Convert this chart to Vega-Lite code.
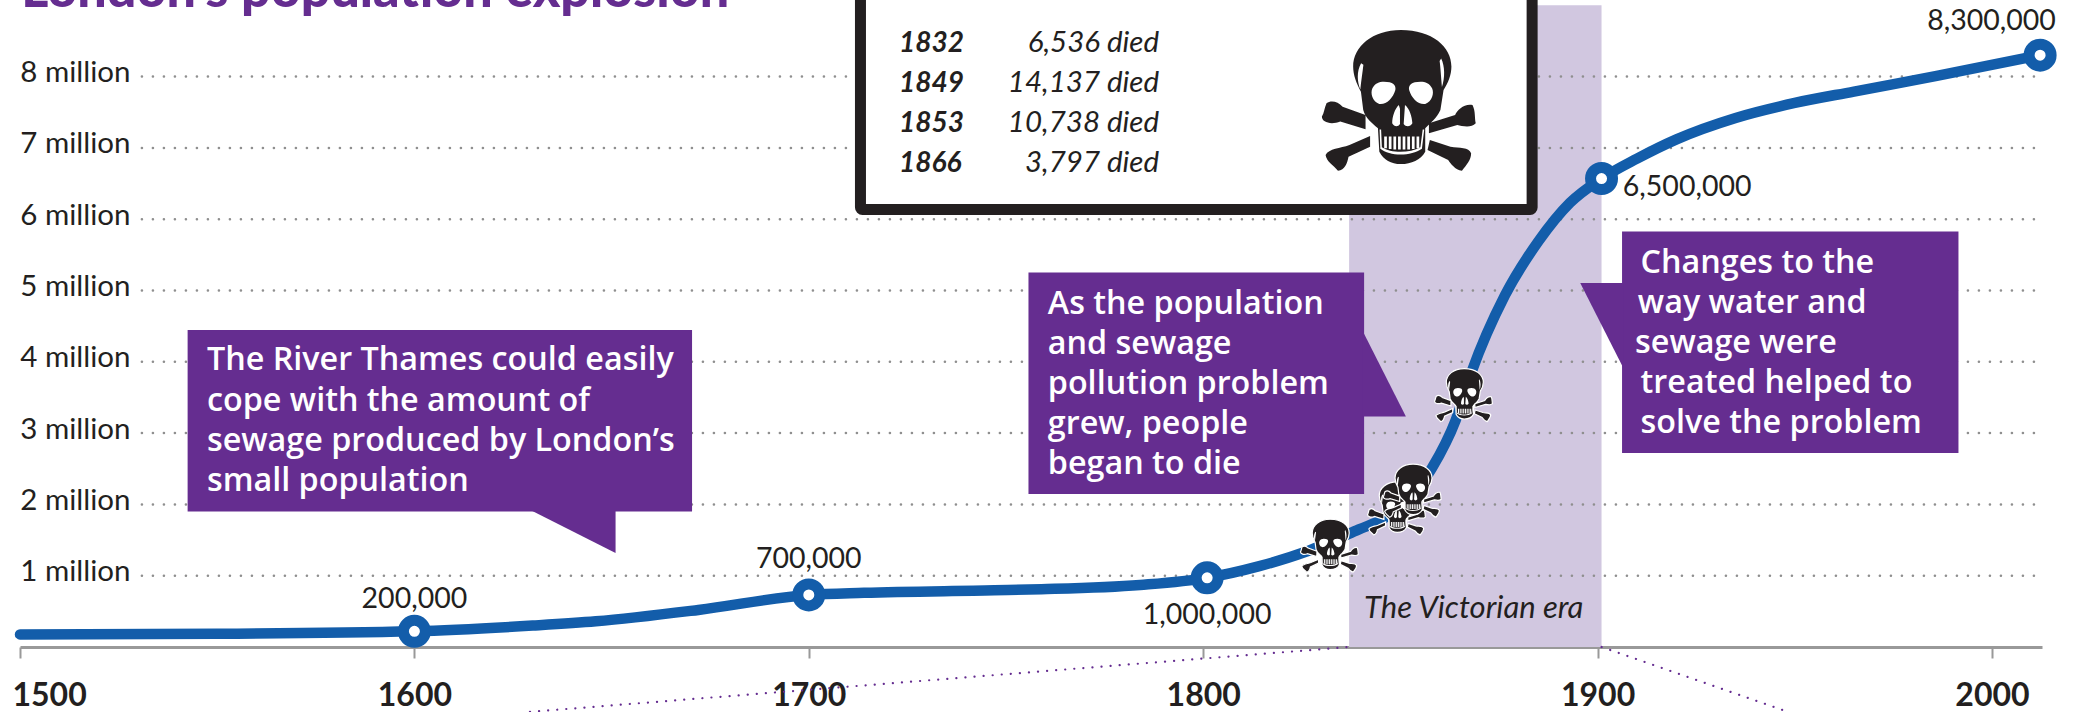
{
"$schema":"https://vega.github.io/schema/vega-lite/v6.json",
"width":2022,"height":647,"autosize":"none",
"padding":{"left":20,"top":0,"right":36,"bottom":65},
"background":"#ffffff",
"config":{"view":{"stroke":null},"text":{"font":"Lato","color":"#231f20"}},
"params":[
{"name":"skullBlack","value":"M.027 -.922 C.432 -.922 .683 -.706 .683 -.446 C.683 -.338 .641 -.229 .581 -.143 L.540 .117 C.492 .225 .403 .290 .343 .355 L.343 .658 C.283 .766 .164 .818 .027 .818 C-.104 .818 -.194 .766 -.253 .658 L-.271 .355 C-.343 .290 -.432 .225 -.462 .117 L-.492 -.121 C-.552 -.229 -.593 -.338 -.593 -.446 C-.593 -.706 -.343 -.922 .027 -.922 Z M-.432 .182 L-.730 .074 C-.790 .009 -.880 -.013 -.939 .030 C-.969 .095 -.969 .160 -.999 .203 C-.999 .281 -.880 .312 -.760 .268 L-.432 .368 Z M.391 .290 L.731 .182 C.760 .117 .850 .030 .957 .052 C.999 .139 .981 .203 .999 .290 C.939 .355 .820 .325 .760 .312 L.391 .420 Z M-.373 .455 L-.641 .571 C-.760 .615 -.909 .615 -.951 .701 C-.939 .788 -.850 .831 -.790 .905 C-.701 .896 -.671 .810 -.653 .723 L-.373 .593 Z M.403 .506 L.671 .593 C.790 .615 .909 .593 .939 .680 C.939 .766 .880 .831 .820 .905 C.731 .896 .671 .810 .641 .766 L.373 .636 Z"},
{"name":"skullWhite","value":"M-.194 -.251 C-.075 -.251 -.033 -.208 -.045 -.143 C-.075 -.035 -.164 .052 -.253 .039 C-.343 .009 -.373 -.100 -.343 -.165 C-.313 -.229 -.253 -.251 -.194 -.251 Z M.283 -.251 C.164 -.251 .122 -.208 .134 -.143 C.164 -.035 .253 .052 .343 .039 C.432 .009 .462 -.100 .432 -.165 C.403 -.229 .343 -.251 .283 -.251 Z M0 .052 C-.05 .10 -.086 .2 -.086 .29 C-.06 .34 -.01 .34 .015 .30 L.015 .10 Z M.08 .052 L.063 .30 C.09 .34 .15 .34 .176 .29 C.17 .2 .14 .10 .08 .052 Z M-.19 .46 L-.155 .46 L-.155 .615 L-.19 .615 Z M-.13 .46 L-.095 .46 L-.095 .625 L-.13 .625 Z M-.07 .46 L-.035 .46 L-.035 .63 L-.07 .63 Z M-.01 .46 L.025 .46 L.025 .63 L-.01 .63 Z M.05 .46 L.085 .46 L.085 .63 L.05 .63 Z M.11 .46 L.145 .46 L.145 .63 L.11 .63 Z M.17 .46 L.205 .46 L.205 .625 L.17 .625 Z M.23 .46 L.265 .46 L.265 .615 L.23 .615 Z M-.25 .37 L-.24 .62 C-.12 .72 .16 .72 .30 .62 L.33 .37 L.31 .37 L.28 .60 C.14 .68 -.10 .68 -.22 .60 L-.23 .37 Z M-.49 -.49 C-.55 -.38 -.54 -.25 -.50 -.15 C-.49 -.25 -.47 -.38 -.46 -.47 Z M.55 -.55 C.6 -.45 .6 -.3 .56 -.18 C.55 -.3 .54 -.45 .53 -.52 Z"}
],
"datasets":{
"population":[
{"year":1500,"millions":0.177},{"year":1550,"millions":0.185},{"year":1600,"millions":0.22},{"year":1630,"millions":0.30},{"year":1646,"millions":0.36},{"year":1672,"millions":0.52},{"year":1700,"millions":0.73},{"year":1714,"millions":0.76},{"year":1747,"millions":0.795},{"year":1759,"millions":0.81},{"year":1784,"millions":0.87},{"year":1801,"millions":0.97},{"year":1814,"millions":1.13},{"year":1826,"millions":1.335},{"year":1839.5,"millions":1.65},{"year":1846,"millions":1.81},{"year":1858,"millions":2.51},{"year":1864,"millions":3.18},{"year":1868,"millions":3.85},{"year":1876.5,"millions":4.93},{"year":1885,"millions":5.69},{"year":1893,"millions":6.23},{"year":1901,"millions":6.57},{"year":1910,"millions":6.85},{"year":1920,"millions":7.12},{"year":1935,"millions":7.42},{"year":1950,"millions":7.63},{"year":1965,"millions":7.79},{"year":1986,"millions":8.01},{"year":2012.2,"millions":8.30}
],
"milestones":[{"year":1600,"millions":0.22},{"year":1700,"millions":0.73},{"year":1801,"millions":0.97},{"year":1901,"millions":6.57},{"year":2012.2,"millions":8.30}],
"skulls":[
{"year":1849.6,"millions":7.658,"kind":"key"},
{"year":1832,"millions":1.417,"kind":"death"},
{"year":1849,"millions":1.94,"kind":"death"},
{"year":1853,"millions":2.19,"kind":"death"},
{"year":1866,"millions":3.53,"kind":"death"}
]
},
"encoding":{
"x":{"field":"year","type":"quantitative","title":null,
"scale":{"domain":[1500,2012.68],"nice":false,"zero":false},
"axis":{"values":[1500,1600,1700,1800,1900,2000],"format":"d","grid":false,"domainColor":"#999999","domainWidth":3,"tickColor":"#999999","tickWidth":2,"tickSize":11,"labelFont":"Lato","labelFontSize":32,"labelFontWeight":"bold","labelColor":"#231f20","labelPadding":22,"labelFlush":true,"labelFlushOffset":8}},
"y":{"field":"millions","type":"quantitative","title":null,
"scale":{"domain":[0,9.074],"nice":false,"zero":false},
"axis":{"values":[1,2,3,4,5,6,7,8],"grid":false,"domain":false,"ticks":false,"labelExpr":"datum.value + ' million'","labelFont":"Lato","labelFontSize":29.5,"labelColor":"#231f20","labelAlign":"right","labelPadding":-110,"labelOffset":-4}}
},
"layer":[
{"data":{"values":[{"year":1837,"year2":1901,"millions":0,"millions2":9.0}]},
 "mark":{"type":"rect","fill":"#d1c7e0"},
 "encoding":{"x2":{"field":"year2"},"y2":{"field":"millions2"}}},
{"data":{"values":[{"year":1530.9,"year2":2012.7,"millions":1},{"year":1530.9,"year2":2012.7,"millions":2},{"year":1530.9,"year2":2012.7,"millions":3},{"year":1530.9,"year2":2012.7,"millions":4},{"year":1530.9,"year2":2012.7,"millions":5},{"year":1530.9,"year2":2012.7,"millions":6},{"year":1530.9,"year2":2012.7,"millions":7},{"year":1530.9,"year2":2012.7,"millions":8}]},
 "mark":{"type":"rule","stroke":"#8f8f8f","strokeWidth":2.5,"strokeCap":"round","strokeDash":[0.1,10.9]},
 "encoding":{"x2":{"field":"year2"}}},
{"data":{"values":[{"year":1837,"millions":0,"path":"a"},{"year":1629.3,"millions":-0.91,"path":"a"},{"year":1901,"millions":0,"path":"b"},{"year":1948.3,"millions":-0.91,"path":"b"}]},
 "mark":{"type":"line","stroke":"#652d90","strokeWidth":2.2,"strokeCap":"round","strokeDash":[0.1,9]},
 "encoding":{"detail":{"field":"path"}}},
{"data":{"values":[{"year":1713.1,"year2":1883.4,"millions":6.136,"millions2":9.6}]},
 "mark":{"type":"rect","fill":"#ffffff","stroke":"#231f20","strokeWidth":11,"cornerRadius":2},
 "encoding":{"x2":{"field":"year2"},"y2":{"field":"millions2"}}},
{"data":{"name":"population"},
 "mark":{"type":"line","stroke":"#135daa","strokeWidth":10.5,"strokeCap":"round","interpolate":"monotone"}},
{"data":{"name":"milestones"},
 "mark":{"type":"point","filled":false,"opacity":1,"fill":"#ffffff","fillOpacity":1,"stroke":"#135daa","strokeWidth":11,"size":484,"shape":"circle"}},
{"data":{"values":[{"year":1542.5,"year2":1670.4,"millions":4.446,"millions2":1.902},{"year":1755.7,"year2":1840.8,"millions":5.253,"millions2":2.146},{"year":1906.2,"year2":1991.5,"millions":5.826,"millions2":2.721}]},
 "mark":{"type":"rect","fill":"#652d90"},
 "encoding":{"x2":{"field":"year2"},"y2":{"field":"millions2"}}},
{"data":{"values":[{"callout":"a","year":1629.4,"millions":1.92,"millions2":1.92},{"callout":"a","year":1651,"millions":1.318,"millions2":1.92},{"callout":"b","year":1840.5,"millions":4.425,"millions2":3.234},{"callout":"b","year":1851.4,"millions":3.234,"millions2":3.234},{"callout":"c","year":1895.6,"millions":5.105,"millions2":5.105},{"callout":"c","year":1906.5,"millions":5.105,"millions2":3.916}]},
 "mark":{"type":"area","fill":"#652d90","interpolate":"linear"},
 "encoding":{"y":{"field":"millions","type":"quantitative","stack":null},"y2":{"field":"millions2"},"detail":{"field":"callout"}}},
{"data":{"values":[
{"year":1547.4,"millions":3.885,"label":"The River Thames could easily"},
{"year":1547.4,"millions":3.31,"label":"cope with the amount of"},
{"year":1547.4,"millions":2.749,"label":"sewage produced by London’s"},
{"year":1547.4,"millions":2.188,"label":"small population"},
{"year":1760.6,"millions":4.67,"label":"As the population"},
{"year":1760.6,"millions":4.109,"label":"and sewage"},
{"year":1760.6,"millions":3.548,"label":"pollution problem"},
{"year":1760.6,"millions":2.987,"label":"grew, people"},
{"year":1760.6,"millions":2.426,"label":"began to die"},
{"year":1910.9,"millions":5.245,"label":"Changes to the"},
{"year":1910.2,"millions":4.684,"label":"way water and"},
{"year":1909.5,"millions":4.123,"label":"sewage were"},
{"year":1910.9,"millions":3.562,"label":"treated helped to"},
{"year":1910.9,"millions":3.001,"label":"solve the problem"}]},
 "mark":{"type":"text","align":"left","baseline":"alphabetic","font":"Open Sans","fontSize":32.3,"fontWeight":600,"fill":"#ffffff"},
 "encoding":{"text":{"field":"label"}}},
{"data":{"values":[{"year":1600,"millions":0.547,"label":"200,000"},{"year":1700,"millions":1.114,"label":"700,000"},{"year":1801,"millions":0.316,"label":"1,000,000"}]},
 "mark":{"type":"text","align":"center","baseline":"alphabetic","fontSize":28.5},
 "encoding":{"text":{"field":"label"}}},
{"data":{"values":[{"year":1906.4,"millions":6.325,"label":"6,500,000"}]},
 "mark":{"type":"text","align":"left","baseline":"alphabetic","fontSize":28.5},
 "encoding":{"text":{"field":"label"}}},
{"data":{"values":[{"year":2016.2,"millions":8.654,"label":"8,300,000"}]},
 "mark":{"type":"text","align":"right","baseline":"alphabetic","fontSize":28.5},
 "encoding":{"text":{"field":"label"}}},
{"data":{"values":[{"year":1840.8,"millions":0.412,"label":"The Victorian era"}]},
 "mark":{"type":"text","align":"left","baseline":"alphabetic","fontSize":31,"fontStyle":"italic"},
 "encoding":{"text":{"field":"label"}}},
{"data":{"values":[{"year":1500.3,"millions":8.98,"label":"London’s population explosion"}]},
 "mark":{"type":"text","align":"left","baseline":"alphabetic","fontSize":52,"fontWeight":900,"fill":"#652d90"},
 "encoding":{"text":{"field":"label"}}},
{"data":{"values":[{"year":1722.9,"millions":8.345,"label":"1832"},{"year":1722.9,"millions":7.784,"label":"1849"},{"year":1722.9,"millions":7.223,"label":"1853"},{"year":1722.9,"millions":6.662,"label":"1866"}]},
 "mark":{"type":"text","align":"left","baseline":"alphabetic","fontSize":28,"fontWeight":"bold","fontStyle":"italic"},
 "encoding":{"text":{"field":"label"}}},
{"data":{"values":[{"year":1788.8,"millions":8.345,"label":"6,536 died"},{"year":1788.8,"millions":7.784,"label":"14,137 died"},{"year":1788.8,"millions":7.223,"label":"10,738 died"},{"year":1788.8,"millions":6.662,"label":"3,797 died"}]},
 "mark":{"type":"text","align":"right","baseline":"alphabetic","fontSize":29.5,"fontStyle":"italic"},
 "encoding":{"text":{"field":"label"}}},
{"data":{"name":"skulls"},"transform":[{"filter":"datum.year == 1849"}],
 "mark":{"type":"point","filled":true,"opacity":1,"fill":"#231f20","stroke":"#ffffff","strokeWidth":1.2,"size":3364,"shape":{"expr":"skullBlack"}}},
{"data":{"name":"skulls"},"transform":[{"filter":"datum.year == 1849"}],
 "mark":{"type":"point","filled":true,"opacity":1,"fill":"#ffffff","size":3364,"shape":{"expr":"skullWhite"}}},
{"data":{"name":"skulls"},"transform":[{"filter":"datum.year != 1849"}],
 "mark":{"type":"point","filled":true,"opacity":1,"fill":"#231f20","stroke":"#ffffff"},
 "encoding":{"shape":{"value":{"expr":"skullBlack"}},"size":{"condition":{"test":"datum.kind === 'key'","value":23716},"value":3364},"strokeWidth":{"condition":{"test":"datum.kind === 'key'","value":0},"value":1.2}}},
{"data":{"name":"skulls"},"transform":[{"filter":"datum.year != 1849"}],
 "mark":{"type":"point","filled":true,"opacity":1,"fill":"#ffffff"},
 "encoding":{"shape":{"value":{"expr":"skullWhite"}},"size":{"condition":{"test":"datum.kind === 'key'","value":23716},"value":3364}}}
]
}
